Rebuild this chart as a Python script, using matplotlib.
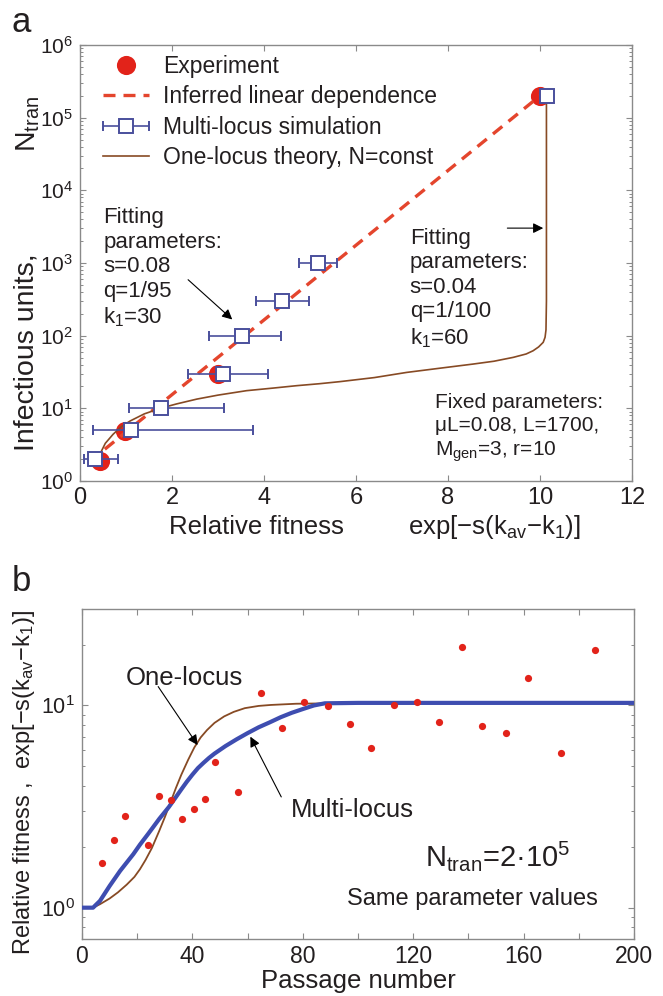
import numpy as np
import matplotlib
matplotlib.use('Agg')
import matplotlib.pyplot as plt
from matplotlib.ticker import FixedLocator, FuncFormatter, NullFormatter
from matplotlib.legend_handler import HandlerErrorbar
from matplotlib.container import ErrorbarContainer

plt.rcParams['font.family'] = ['Liberation Sans', 'DejaVu Sans']
plt.rcParams['mathtext.fontset'] = 'custom'
plt.rcParams['mathtext.rm'] = 'Liberation Sans'
plt.rcParams['mathtext.it'] = 'Liberation Sans:italic'
plt.rcParams['mathtext.bf'] = 'Liberation Sans:bold'
plt.rcParams['mathtext.default'] = 'regular'

# ---------------- Panel a data ----------------
exp_fit = [0.43, 0.97, 3.0, 10.0]
exp_N = [1.9, 4.9, 30, 2.0e5]

fit_line_x = [0.54, 10.0]
fit_line_N = [2.74, 2.0e5]

sim_fit = [0.33, 1.10, 1.76, 3.10, 3.53, 4.40, 5.17, 10.16]
sim_N = [2.0, 5.0, 10, 30, 100, 300, 1000, 2.0e5]
sim_lo = [0.09, 0.29, 1.06, 2.35, 2.81, 3.83, 4.76, 10.16]
sim_hi = [0.82, 3.77, 3.14, 4.09, 4.37, 4.97, 5.59, 10.16]

one_fit = [0.42, 0.45, 0.55, 0.72, 0.9, 1.09, 1.4, 1.76, 2.1, 2.54, 3.0, 3.62,
           4.2, 4.71, 5.2, 5.65, 6.4, 7.1, 7.8, 8.55, 9.0, 9.42, 9.7, 9.85,
           9.97, 10.07, 10.11, 10.13, 10.14, 10.14, 10.14]
one_N = [1.9, 2.46, 3.3, 4.4, 5.6, 6.7, 8.4, 10.06, 11.5, 13.4, 15.2, 17.5,
         19.0, 20.5, 21.8, 23.3, 26.5, 31.2, 35.5, 40.7, 44.5, 50.3, 56, 62,
         70, 81, 95, 120, 300, 3000, 2.0e5]

a_xticks = [0, 2, 4, 6, 8, 10, 12]
a_yticks = [1, 10, 100, 1e3, 1e4, 1e5, 1e6]

# ---------------- Panel b data ----------------
passage = [7.4, 11.5, 15.4, 23.8, 27.8, 32.3, 36.4, 40.4, 44.5, 48.1, 56.4,
           65.0, 72.4, 80.3, 89.2, 97.2, 104.8, 112.9, 121.3, 129.5, 137.8,
           144.8, 153.8, 161.7, 173.6, 186.0]
fitness_exp = [1.67, 2.15, 2.83, 2.05, 3.55, 3.42, 2.75, 3.06, 3.46, 5.27, 3.72,
               11.5, 7.71, 10.4, 9.89, 8.1, 6.13, 10.0, 10.4, 8.33, 19.4,
               7.93, 7.34, 13.7, 5.84, 18.9]

multi_t = [0, 4, 6.5, 10, 13.8, 18.6, 21, 24, 28, 31.5, 34, 36, 38, 40, 42,
           44, 46, 48, 52, 56, 60, 64, 68, 72, 76, 80, 84, 88, 100, 200]
multi_f = [1.0, 1.0, 1.08, 1.28, 1.52, 1.84, 2.05, 2.32, 2.75, 3.15, 3.52, 3.85,
           4.2, 4.55, 4.9, 5.2, 5.5, 5.78, 6.3, 6.8, 7.3, 7.8, 8.25, 8.75,
           9.2, 9.6, 10.0, 10.25, 10.3, 10.3]

onel_t = [0, 4, 6.5, 10, 13, 16.2, 19, 21, 23, 25.3, 28, 30, 32, 34, 36,
          38.5, 40.7, 43, 45.3, 48, 51.5, 55, 59, 64, 68.4, 77.6, 90, 200]
onel_f = [1.0, 1.0, 1.04, 1.11, 1.19, 1.3, 1.42, 1.55, 1.72, 1.97, 2.4, 2.8,
          3.3, 3.9, 4.55, 5.4, 6.2, 6.95, 7.56, 8.2, 8.83, 9.3, 9.7, 9.95,
          10.06, 10.2, 10.25, 10.25]

b_xticks = [0, 40, 80, 120, 160, 200]
b_xminor = [20, 60, 100, 140, 180]

# ---------------- style ----------------
RED = '#e2231a'
DASH = '#e4452d'
BLUE_A = '#4a4f9c'
BROWN = '#874a24'
BLUE_B = '#3e4db0'
TXT = '#231f20'
FRAME = '#8a8a8a'

W, H = 663, 996
fig = plt.figure(figsize=(W / 100, H / 100), dpi=100)


def style_axes(ax):
    for s in ax.spines.values():
        s.set_color(FRAME)
        s.set_linewidth(1.0)
    ax.tick_params(which='both', direction='in', top=True, right=True,
                   color=FRAME, labelcolor=TXT)
    ax.tick_params(which='major', length=4.5, width=0.8)
    ax.tick_params(which='minor', length=2.5, width=0.7)


def pow_fmt(v, pos):
    return r'$10^{%d}$' % int(round(np.log10(v)))


# ---------------- Panel a ----------------
axa = fig.add_axes([80 / W, 1 - 481 / H, 552 / W, 436 / H])
axa.set_yscale('log')
axa.set_xlim(0, 12)
axa.set_ylim(1, 1e6)
style_axes(axa)
axa.xaxis.set_major_locator(FixedLocator(a_xticks))
axa.yaxis.set_major_locator(FixedLocator(a_yticks))
axa.yaxis.set_major_formatter(FuncFormatter(pow_fmt))
axa.yaxis.set_minor_formatter(NullFormatter())
axa.tick_params(axis='x', labelsize=17, pad=4)
axa.tick_params(axis='y', labelsize=15, pad=5)

h_exp, = axa.plot(exp_fit, exp_N, 'o', color=RED, ms=13.8, mec='none',
                  zorder=2, label='Experiment')
h_fit, = axa.plot(fit_line_x, fit_line_N, '--', color=DASH, lw=2.4,
                  dashes=(3.6, 2.4), zorder=3, label='Inferred linear dependence')
h_one, = axa.plot(one_fit, one_N, '-', color=BROWN, lw=1.2, zorder=3,
                  label='One-locus theory, N=const')
xerr = [np.array(sim_fit) - np.array(sim_lo), np.array(sim_hi) - np.array(sim_fit)]
h_sim = axa.errorbar(sim_fit, sim_N, xerr=xerr, fmt='s', color=BLUE_A, mfc='white',
                     mec=BLUE_A, ms=9.5, mew=1.4, elinewidth=1.2, capsize=3.5,
                     capthick=1.2, zorder=4, label='Multi-locus simulation')

leg = axa.legend([h_exp, h_fit, h_sim, h_one],
                 ['Experiment', 'Inferred linear dependence',
                  'Multi-locus simulation', 'One-locus theory, N=const'],
                 loc='upper left', bbox_to_anchor=(0.042, 0.978), frameon=False,
                 fontsize=16.5, handlelength=2.0, handletextpad=0.6,
                 labelspacing=0.33, borderpad=0, borderaxespad=0, numpoints=1,
                 handler_map={ErrorbarContainer: HandlerErrorbar(xerr_size=1.0)})
for t in leg.get_texts():
    t.set_color(TXT)

axa.text(0.51, 850, 'Fitting\nparameters:\ns=0.08\nq=1/95\nk$_1$=30',
         ha='left', va='center', fontsize=16, color=TXT, linespacing=1.22)
axa.text(7.17, 440, 'Fitting\nparameters:\ns=0.04\nq=1/100\nk$_1$=60',
         ha='left', va='center', fontsize=16, color=TXT, linespacing=1.22)
axa.text(7.72, 5.3, 'Fixed parameters:\nμL=0.08, L=1700,\nM$_{gen}$=3, r=10',
         ha='left', va='center', fontsize=15, color=TXT, linespacing=1.25)

arrow_kw = dict(arrowstyle='-|>', color='k', lw=0.8, mutation_scale=15,
                shrinkA=0, shrinkB=0)
axa.annotate('', xy=(3.31, 167), xytext=(2.35, 589), arrowprops=arrow_kw)
axa.annotate('', xy=(10.07, 3020), xytext=(9.29, 3020), arrowprops=arrow_kw)

axa.text(0.319, -0.105, 'Relative fitness', transform=axa.transAxes,
         ha='center', va='center', fontsize=18.5, color=TXT)
axa.text(0.75, -0.105, 'exp[$-$s(k$_{av}$$-$k$_1$)]', transform=axa.transAxes,
         ha='center', va='center', fontsize=18.5, color=TXT)
fig.text(27 / W, 1 - 352 / H, 'Infectious units,', rotation=90, ha='center',
         va='center', fontsize=20.5, color=TXT)
fig.text(28 / W, 1 - 124 / H, 'N$_{tran}$', rotation=90, ha='center',
         va='center', fontsize=20.5, color=TXT)
fig.text(21 / W, 1 - 22 / H, 'a', ha='center', va='center', fontsize=25,
         color=TXT)

# ---------------- Panel b ----------------
axb = fig.add_axes([82 / W, 1 - 939 / H, 552 / W, 330 / H])
axb.set_yscale('log')
axb.set_xlim(0, 200)
axb.set_ylim(0.7, 30)
style_axes(axb)
axb.xaxis.set_major_locator(FixedLocator(b_xticks))
axb.xaxis.set_minor_locator(FixedLocator(b_xminor))
axb.tick_params(axis='x', which='minor', length=4.5, width=0.8)
axb.yaxis.set_major_locator(FixedLocator([1, 10]))
axb.yaxis.set_major_formatter(FuncFormatter(pow_fmt))
axb.yaxis.set_minor_formatter(NullFormatter())
axb.tick_params(axis='x', labelsize=16.5, pad=4)
axb.tick_params(axis='y', labelsize=15.5, pad=5)

axb.plot(onel_t, onel_f, '-', color=BROWN, lw=1.3, zorder=3)
axb.plot(multi_t, multi_f, '-', color=BLUE_B, lw=3.0, zorder=4)
axb.plot(passage, fitness_exp, 'o', color=RED, ms=5.2, mec='none', zorder=5)

axb.text(37.2, 13.7, 'One-locus', ha='center', va='center', fontsize=18.5,
         color=TXT)
axb.text(98, 3.03, 'Multi-locus', ha='center', va='center', fontsize=18.5,
         color=TXT)
axb.annotate('', xy=(41.9, 6.37), xytext=(27.6, 12.4), arrowprops=arrow_kw)
axb.annotate('', xy=(61.0, 7.01), xytext=(72.2, 3.53), arrowprops=arrow_kw)
axb.text(124.4, 1.81, 'N$_{tran}$=2·10$^5$', ha='left', va='center',
         fontsize=21, color=TXT)
axb.text(96, 1.11, 'Same parameter values', ha='left', va='center',
         fontsize=17, color=TXT)

axb.set_xlabel('Passage number', fontsize=18.5, color=TXT, labelpad=1)
fig.text(24 / W, 1 - 782 / H, 'Relative fitness ,  exp[$-$s(k$_{av}$$-$k$_1$)]',
         rotation=90, ha='center', va='center', fontsize=17, color=TXT)
fig.text(21 / W, 1 - 581 / H, 'b', ha='center', va='center', fontsize=25,
         color=TXT)

fig.savefig('out.png', dpi=100)
